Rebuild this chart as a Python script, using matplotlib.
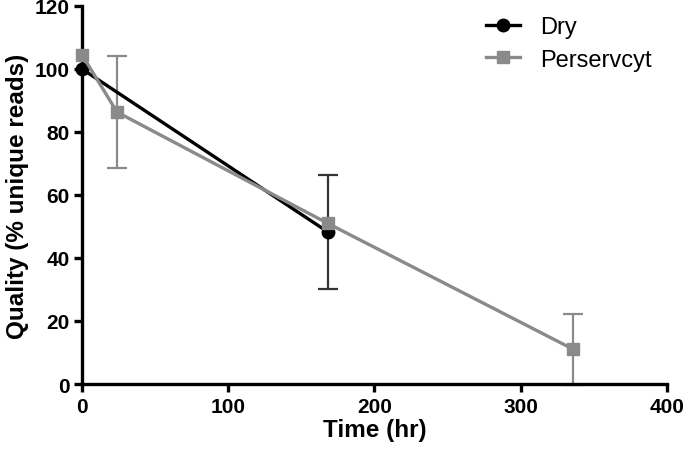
import matplotlib
matplotlib.use('Agg')
import matplotlib.pyplot as plt
from matplotlib.lines import Line2D

plt.rcParams['font.family'] = 'Liberation Sans'
plt.rcParams['font.weight'] = 'bold'

# Dry samples
dry_time = [0, 168]
dry_quality = [100, 48.3]
dry_err = [0, 18.2]

# Perservcyt samples
pers_time = [0, 24, 168, 336]
pers_quality = [104.5, 86.3, 51.0, 11.0]
pers_err = [0, 17.8, 0, 11.2]

GREY = '#8a8a8a'

fig = plt.figure(figsize=(6.85, 4.56), dpi=100)
ax = fig.add_axes([0.1197, 0.1557, 0.854, 0.829])


def draw(ax, t, q, err, color, ecolor, marker, z):
    ax.plot(t, q, color=color, lw=2.4, marker=marker, ms=9, zorder=z, clip_on=False)
    # only draw error bars where there is a spread
    et = [a for a, e in zip(t, err) if e > 0]
    eq = [b for b, e in zip(q, err) if e > 0]
    ee = [e for e in err if e > 0]
    ax.errorbar(et, eq, yerr=ee, fmt='none', ecolor=ecolor, elinewidth=1.6,
                capsize=7, capthick=1.6, zorder=2, clip_on=False)


draw(ax, pers_time, pers_quality, pers_err, GREY, GREY, 's', 4)
draw(ax, dry_time, dry_quality, dry_err, 'black', '#333333', 'o', 3)

ax.set_xlim(0, 400)
ax.set_ylim(0, 120)
ax.set_xticks(range(0, 401, 100))
ax.set_yticks(range(0, 121, 20))

for s in ['top', 'right']:
    ax.spines[s].set_visible(False)
for s in ['left', 'bottom']:
    ax.spines[s].set_linewidth(2.4)
ax.tick_params(direction='out', length=6, width=2.4, labelsize=15, pad=3)
for lbl in ax.get_xticklabels() + ax.get_yticklabels():
    lbl.set_fontweight('bold')

ax.set_xlabel('Time (hr)', fontsize=17.5, fontweight='bold', labelpad=2)
ax.set_ylabel('Quality (% unique reads)', fontsize=17.5, fontweight='bold', labelpad=4)

handles = [Line2D([], [], color='black', lw=2.4, marker='o', ms=9),
           Line2D([], [], color=GREY, lw=2.4, marker='s', ms=9)]
leg = ax.legend(handles, ['Dry', 'Perservcyt'], loc='upper right',
                bbox_to_anchor=(1.01, 1.03), frameon=False, fontsize=17,
                handlelength=1.45, handletextpad=0.85, labelspacing=0.45)
for t in leg.get_texts():
    t.set_fontweight('normal')

fig.savefig('out.png', dpi=100)
